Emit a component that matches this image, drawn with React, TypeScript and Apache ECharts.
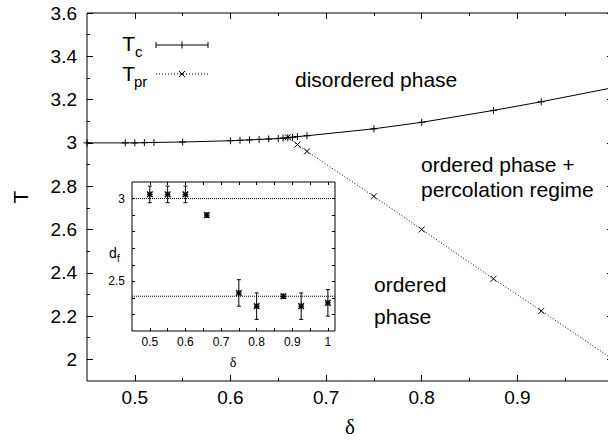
import React, { useEffect, useRef } from "react";
import * as echarts from "echarts";

// ---- main plot data ----
const tcDelta = [0.45, 0.49, 0.5, 0.51, 0.52, 0.55, 0.6, 0.61, 0.62, 0.63, 0.64, 0.65, 0.655, 0.66, 0.665, 0.67, 0.68, 0.75, 0.8, 0.875, 0.925, 1.0];
const tcValues = [3.0, 3.0, 3.0, 3.001, 3.002, 3.004, 3.01, 3.012, 3.014, 3.016, 3.018, 3.02, 3.022, 3.024, 3.026, 3.029, 3.033, 3.065, 3.095, 3.15, 3.19, 3.255];
const tprDelta = [0.66, 0.67, 0.68, 0.75, 0.8, 0.875, 0.925, 1.0];
const tprValues = [3.026, 2.992, 2.961, 2.753, 2.6, 2.372, 2.224, 2.0];

const mainXTicks = [0.5, 0.6, 0.7, 0.8, 0.9, 1.0];
const mainXMinor = [0.55, 0.65, 0.75, 0.85, 0.95];
const mainYTicks = [2.0, 2.2, 2.4, 2.6, 2.8, 3.0, 3.2, 3.4, 3.6];
const mainYMinor = [2.1, 2.3, 2.5, 2.7, 2.9, 3.1, 3.3, 3.5];

// ---- inset data ----
const dfDelta = [0.5, 0.55, 0.6, 0.66, 0.75, 0.8, 0.875, 0.925, 1.0];
const dfValues = [3.025, 3.025, 3.025, 2.9, 2.43, 2.35, 2.41, 2.35, 2.37];
const dfErrors = [0.05, 0.05, 0.05, 0.012, 0.08, 0.08, 0.012, 0.08, 0.08];
const dfReference = [3.0, 2.41];

const insetXLabels = [0.5, 0.6, 0.7, 0.8, 0.9, 1.0];
const insetXTicks = [0.5, 0.55, 0.6, 0.65, 0.7, 0.75, 0.8, 0.85, 0.9, 0.95, 1.0];
const insetYLabels = [2.5, 3.0];
const insetYTicks = [2.3, 2.4, 2.5, 2.6, 2.7, 2.8, 2.9, 3.0];

const SANS = "Liberation Sans, Arial, Helvetica, sans-serif";
const SERIF = "Liberation Serif, Times New Roman, serif";
const BLACK = "#000";

const MAIN = { left: 87, top: 13, width: 526, height: 368, outerBoundsMode: "none", containLabel: false };
const INSET = { left: 132, top: 182, width: 203, height: 149, outerBoundsMode: "none", containLabel: false };

function tickAxis(
  gridIndex: number,
  position: string,
  min: number,
  max: number,
  ticks: number[],
  length: number,
  labels: number[] | null,
  labelSize: number,
  margin: number
) {
  return {
    type: "value",
    gridIndex,
    position,
    min,
    max,
    axisLine: { show: false },
    splitLine: { show: false },
    axisTick: {
      show: true,
      inside: true,
      length,
      customValues: ticks,
      lineStyle: { color: BLACK, width: 1 },
    },
    axisLabel: labels
      ? {
          show: true,
          customValues: labels,
          color: BLACK,
          fontSize: labelSize,
          fontFamily: SANS,
          margin,
          hideOverlap: false,
        }
      : { show: false },
  };
}

const plusPath = "path://M5,0L5,10M0,5L10,5";
const crossPath = "path://M0,0L10,10M10,0L0,10";

export default function App() {
  const ref = useRef<HTMLDivElement>(null);

  useEffect(() => {
    document.body.style.margin = "0";
    if (!ref.current) return;
    const chart = echarts.init(ref.current, null, { renderer: "svg" });

    const tcData = tcDelta.map((d, i) => [d, tcValues[i]]);
    const tprData = tprDelta.map((d, i) => [d, tprValues[i]]);
    const dfData = dfDelta.map((d, i) => [d, dfValues[i], dfErrors[i]]);

    const legendY1 = 45;
    const legendY2 = 74;
    const lx1 = 156;
    const lx2 = 208;
    const lxm = 182;

    const option: any = {
      animation: false,
      backgroundColor: "#fff",
      grid: [
        { ...MAIN, show: true, borderColor: BLACK, borderWidth: 1, backgroundColor: "transparent" },
        { ...MAIN, show: false },
        { ...INSET, show: true, borderColor: BLACK, borderWidth: 1, backgroundColor: "#fff", z: 5 },
      ],
      xAxis: [
        tickAxis(0, "bottom", 0.45, 1.0, mainXTicks, 6, mainXTicks, 19, 7),
        tickAxis(0, "top", 0.45, 1.0, mainXTicks, 6, null, 0, 0),
        tickAxis(1, "bottom", 0.45, 1.0, mainXMinor, 3, null, 0, 0),
        tickAxis(1, "top", 0.45, 1.0, mainXMinor, 3, null, 0, 0),
        { ...tickAxis(2, "bottom", 0.45, 1.02, insetXTicks, 3, insetXLabels, 12, 5), z: 6 },
        { ...tickAxis(2, "top", 0.45, 1.02, insetXTicks, 3, null, 0, 0), z: 6 },
      ],
      yAxis: [
        tickAxis(0, "left", 1.9, 3.6, mainYTicks, 6, mainYTicks, 19, 10),
        tickAxis(0, "right", 1.9, 3.6, mainYTicks, 6, null, 0, 0),
        tickAxis(1, "left", 1.9, 3.6, mainYMinor, 3, null, 0, 0),
        tickAxis(1, "right", 1.9, 3.6, mainYMinor, 3, null, 0, 0),
        { ...tickAxis(2, "left", 2.2, 3.1, insetYTicks, 3, insetYLabels, 12, 7), z: 6 },
        { ...tickAxis(2, "right", 2.2, 3.1, insetYTicks, 3, null, 0, 0), z: 6 },
      ],
      series: [
        {
          name: "Tc",
          type: "line",
          xAxisIndex: 0,
          yAxisIndex: 0,
          data: tcData,
          symbol: plusPath,
          symbolSize: 7,
          showAllSymbol: true,
          lineStyle: { color: BLACK, width: 1 },
          itemStyle: { color: BLACK, borderColor: BLACK, borderWidth: 1 },
          z: 3,
        },
        {
          name: "Tpr",
          type: "line",
          xAxisIndex: 0,
          yAxisIndex: 0,
          data: tprData,
          symbol: crossPath,
          symbolSize: 6,
          showAllSymbol: true,
          lineStyle: { color: BLACK, width: 1, type: [1, 2] },
          itemStyle: { color: BLACK, borderColor: BLACK, borderWidth: 1 },
          z: 3,
        },
        ...dfReference.map((v) => ({
          type: "line",
          xAxisIndex: 4,
          yAxisIndex: 4,
          data: [
            [0.45, v],
            [1.02, v],
          ],
          symbol: "none",
          lineStyle: { color: BLACK, width: 1, type: [1, 1] },
          z: 7,
          silent: true,
        })),
        {
          type: "custom",
          xAxisIndex: 4,
          yAxisIndex: 4,
          data: dfData,
          z: 8,
          encode: { x: 0, y: 1 },
          renderItem: (params: any, api: any) => {
            const x = api.value(0);
            const y = api.value(1);
            const e = api.value(2);
            const p = api.coord([x, y]);
            const t = api.coord([x, y + e]);
            const b = api.coord([x, y - e]);
            const st = { stroke: BLACK, lineWidth: 1 };
            const sm = { stroke: BLACK, lineWidth: 1.4 };
            const cap = 2;
            const s = 2.8;
            return {
              type: "group",
              children: [
                { type: "line", shape: { x1: p[0], y1: t[1], x2: p[0], y2: b[1] }, style: st },
                { type: "line", shape: { x1: p[0] - cap, y1: t[1], x2: p[0] + cap, y2: t[1] }, style: st },
                { type: "line", shape: { x1: p[0] - cap, y1: b[1], x2: p[0] + cap, y2: b[1] }, style: st },
                { type: "line", shape: { x1: p[0] - s, y1: p[1] - s, x2: p[0] + s, y2: p[1] + s }, style: sm },
                { type: "line", shape: { x1: p[0] - s, y1: p[1] + s, x2: p[0] + s, y2: p[1] - s }, style: sm },
                { type: "line", shape: { x1: p[0] - s, y1: p[1], x2: p[0] + s, y2: p[1] }, style: sm },
                { type: "line", shape: { x1: p[0], y1: p[1] - s, x2: p[0], y2: p[1] + s }, style: sm },
              ],
            };
          },
        },
      ],
      graphic: [
        // axis titles
        {
          type: "text",
          x: 20,
          y: 197,
          rotation: Math.PI / 2,
          style: { text: "T", fontSize: 21, fontFamily: SANS, fill: BLACK, align: "center", verticalAlign: "middle" },
        },
        {
          type: "text",
          x: 350,
          y: 427,
          style: { text: "δ", fontSize: 21, fontFamily: SERIF, fill: BLACK, align: "center", verticalAlign: "middle" },
        },
        // inset axis titles
        {
          type: "text",
          x: 233,
          y: 362,
          z: 10,
          style: { text: "δ", fontSize: 14, fontFamily: SERIF, fill: BLACK, align: "center", verticalAlign: "middle" },
        },
        {
          type: "text",
          x: 109,
          y: 253,
          z: 10,
          style: { text: "d", fontSize: 14, fontFamily: SANS, fill: BLACK, align: "left", verticalAlign: "middle" },
        },
        {
          type: "text",
          x: 117,
          y: 258,
          z: 10,
          style: { text: "f", fontSize: 10, fontFamily: SANS, fill: BLACK, align: "left", verticalAlign: "middle" },
        },
        // region annotations
        {
          type: "text",
          x: 295,
          y: 79,
          style: { text: "disordered phase", fontSize: 21, fontFamily: SANS, fill: BLACK, align: "left", verticalAlign: "middle" },
        },
        {
          type: "text",
          x: 421,
          y: 164,
          style: { text: "ordered phase +", fontSize: 21, fontFamily: SANS, fill: BLACK, align: "left", verticalAlign: "middle" },
        },
        {
          type: "text",
          x: 421,
          y: 189,
          style: { text: "percolation regime", fontSize: 21, fontFamily: SANS, fill: BLACK, align: "left", verticalAlign: "middle" },
        },
        {
          type: "text",
          x: 374,
          y: 284,
          style: { text: "ordered", fontSize: 21, fontFamily: SANS, fill: BLACK, align: "left", verticalAlign: "middle" },
        },
        {
          type: "text",
          x: 374,
          y: 316,
          style: { text: "phase", fontSize: 21, fontFamily: SANS, fill: BLACK, align: "left", verticalAlign: "middle" },
        },
        // legend: T_c
        {
          type: "text",
          x: 135,
          y: 43,
          style: { text: "T", fontSize: 21, fontFamily: SANS, fill: BLACK, align: "right", verticalAlign: "middle" },
        },
        {
          type: "text",
          x: 135,
          y: 51,
          style: { text: "c", fontSize: 15, fontFamily: SANS, fill: BLACK, align: "left", verticalAlign: "middle" },
        },
        { type: "line", shape: { x1: lx1, y1: legendY1, x2: lx2, y2: legendY1 }, style: { stroke: BLACK, lineWidth: 1 } },
        { type: "line", shape: { x1: lx1, y1: legendY1 - 3, x2: lx1, y2: legendY1 + 3 }, style: { stroke: BLACK, lineWidth: 1 } },
        { type: "line", shape: { x1: lx2, y1: legendY1 - 3, x2: lx2, y2: legendY1 + 3 }, style: { stroke: BLACK, lineWidth: 1 } },
        { type: "line", shape: { x1: lxm, y1: legendY1 - 3.5, x2: lxm, y2: legendY1 + 3.5 }, style: { stroke: BLACK, lineWidth: 1 } },
        // legend: T_pr
        {
          type: "text",
          x: 135,
          y: 73,
          style: { text: "T", fontSize: 21, fontFamily: SANS, fill: BLACK, align: "right", verticalAlign: "middle" },
        },
        {
          type: "text",
          x: 134,
          y: 81,
          style: { text: "pr", fontSize: 15, fontFamily: SANS, fill: BLACK, align: "left", verticalAlign: "middle" },
        },
        { type: "line", shape: { x1: lx1, y1: legendY2, x2: lx2, y2: legendY2 }, style: { stroke: BLACK, lineWidth: 1, lineDash: [1, 2] } },
        { type: "line", shape: { x1: lxm - 3, y1: legendY2 - 3, x2: lxm + 3, y2: legendY2 + 3 }, style: { stroke: BLACK, lineWidth: 1 } },
        { type: "line", shape: { x1: lxm - 3, y1: legendY2 + 3, x2: lxm + 3, y2: legendY2 - 3 }, style: { stroke: BLACK, lineWidth: 1 } },
      ],
    };

    chart.setOption(option);
    return () => {
      chart.dispose();
    };
  }, []);

  return <div ref={ref} style={{ width: 608, height: 441 }} />;
}
